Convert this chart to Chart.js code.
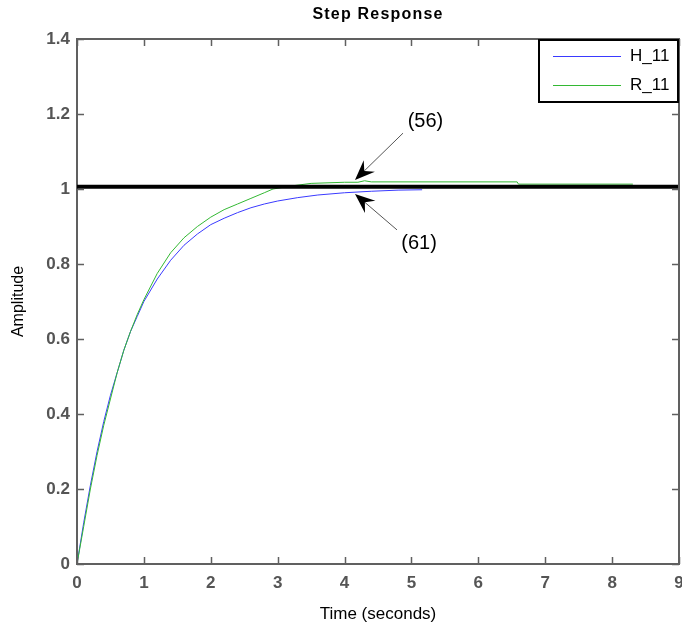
<!DOCTYPE html>
<html>
<head>
<meta charset="utf-8">
<script src="https://cdn.jsdelivr.net/npm/chart.js@4.4.0/dist/chart.umd.min.js"></script>
<style>
  html, body { margin: 0; padding: 0; background: #fff; }
  #wrap { width: 682px; height: 625px; }
</style>
</head>
<body>
<div id="wrap"><canvas id="stepChart" width="682" height="625"></canvas></div>
<script>
// step response samples
const h11Time = [0, 0.1, 0.2, 0.3, 0.4, 0.5, 0.6, 0.7, 0.8, 0.9, 1.0, 1.2, 1.4, 1.6, 1.8, 2.0, 2.2, 2.4, 2.6, 2.8, 3.0, 3.3, 3.6, 4.0, 4.4, 4.8, 5.16];
const h11Amp  = [0, 0.11, 0.21, 0.30, 0.38, 0.45, 0.51, 0.57, 0.62, 0.66, 0.70, 0.76, 0.81, 0.85, 0.88, 0.905, 0.922, 0.937, 0.95, 0.96, 0.968, 0.977, 0.984, 0.99, 0.994, 0.997, 0.998];

const r11Time = [0, 0.1, 0.2, 0.3, 0.4, 0.5, 0.6, 0.7, 0.8, 0.9, 1.0, 1.2, 1.4, 1.6, 1.8, 2.0, 2.2, 2.4, 2.6, 2.8, 2.93, 3.2, 3.5, 4.0, 4.2, 4.3, 4.4, 6.58, 6.6, 8.31];
const r11Amp  = [0, 0.10, 0.20, 0.29, 0.37, 0.44, 0.51, 0.57, 0.62, 0.665, 0.705, 0.775, 0.83, 0.87, 0.90, 0.925, 0.945, 0.96, 0.975, 0.99, 1.0, 1.008, 1.015, 1.018, 1.018, 1.022, 1.019, 1.019, 1.013, 1.013];

const refTime = [0, 9];
const refAmp  = [1.006, 1.006];

const xTicks = [0, 1, 2, 3, 4, 5, 6, 7, 8, 9];
const yTicks = [0, 0.2, 0.4, 0.6, 0.8, 1, 1.2, 1.4];

// annotation arrows (data units): text, text pos, tail, tip
const annLabels = ["(56)", "(61)"];
const annText   = [[5.21, 1.181], [5.113, 0.856]];
const annTail   = [[4.874, 1.149], [4.784, 0.891]];
const annTip    = [[4.156, 1.024], [4.156, 0.987]];

const FONT = '"Liberation Sans", Arial, sans-serif';
const AXIS_GRAY = '#606060';

function pts(xs, ys) {
  return xs.map((x, i) => ({ x: x, y: ys[i] }));
}

const framePlugin = {
  id: 'frame',
  afterDraw(chart) {
    const ctx = chart.ctx;
    const a = chart.chartArea;
    const xs = chart.scales.x, ys = chart.scales.y;
    ctx.save();
    // box top and right
    ctx.strokeStyle = AXIS_GRAY;
    ctx.lineWidth = 2;
    ctx.beginPath();
    ctx.moveTo(a.left, a.top);
    ctx.lineTo(a.right, a.top);
    ctx.lineTo(a.right, a.bottom);
    ctx.stroke();
    // inward ticks
    ctx.lineWidth = 1.5;
    ctx.beginPath();
    xTicks.forEach(v => {
      const px = Math.round(xs.getPixelForValue(v)) + 0.5;
      ctx.moveTo(px, a.bottom); ctx.lineTo(px, a.bottom - 7);
      ctx.moveTo(px, a.top); ctx.lineTo(px, a.top + 7);
    });
    yTicks.forEach(v => {
      const py = Math.round(ys.getPixelForValue(v)) + 0.5;
      ctx.moveTo(a.left, py); ctx.lineTo(a.left + 7, py);
      ctx.moveTo(a.right, py); ctx.lineTo(a.right - 7, py);
    });
    ctx.stroke();

    // arrows
    ctx.strokeStyle = '#555';
    ctx.fillStyle = '#000';
    ctx.lineWidth = 1;
    for (let i = 0; i < annLabels.length; i++) {
      const tx = xs.getPixelForValue(annTail[i][0]), ty = ys.getPixelForValue(annTail[i][1]);
      const hx = xs.getPixelForValue(annTip[i][0]), hy = ys.getPixelForValue(annTip[i][1]);
      const ang = Math.atan2(hy - ty, hx - tx);
      const len = 20, half = 8, notch = 13;
      ctx.beginPath();
      ctx.moveTo(tx, ty);
      ctx.lineTo(hx - Math.cos(ang) * notch, hy - Math.sin(ang) * notch);
      ctx.stroke();
      const bx = hx - Math.cos(ang) * len, by = hy - Math.sin(ang) * len;
      const nx = hx - Math.cos(ang) * notch, ny = hy - Math.sin(ang) * notch;
      ctx.beginPath();
      ctx.moveTo(hx, hy);
      ctx.lineTo(bx + Math.sin(ang) * half, by - Math.cos(ang) * half);
      ctx.lineTo(nx, ny);
      ctx.lineTo(bx - Math.sin(ang) * half, by + Math.cos(ang) * half);
      ctx.closePath();
      ctx.fill();
      ctx.font = '20px ' + FONT;
      ctx.textAlign = 'center';
      ctx.textBaseline = 'middle';
      ctx.fillText(annLabels[i], xs.getPixelForValue(annText[i][0]), ys.getPixelForValue(annText[i][1]));
    }

    // title
    ctx.fillStyle = '#000';
    ctx.font = 'bold 16px ' + FONT;
    ctx.letterSpacing = '1.2px';
    ctx.textAlign = 'center';
    ctx.textBaseline = 'middle';
    ctx.fillText('Step Response', (a.left + a.right) / 2, 15);
    ctx.letterSpacing = '0px';

    // legend box
    const lx = 539, ly = 40, lw = 139, lh = 62;
    ctx.fillStyle = '#fff';
    ctx.fillRect(lx, ly, lw, lh);
    ctx.strokeStyle = '#000';
    ctx.lineWidth = 2;
    ctx.strokeRect(lx, ly, lw, lh);
    const items = chart.data.datasets.filter(d => d.label);
    items.forEach((d, i) => {
      const y = ly + 16 + i * 29;
      ctx.strokeStyle = d.borderColor;
      ctx.lineWidth = 1;
      ctx.beginPath();
      ctx.moveTo(553, y + 0.5); ctx.lineTo(621, y + 0.5);
      ctx.stroke();
      ctx.fillStyle = '#000';
      ctx.font = '17px ' + FONT;
      ctx.textAlign = 'left';
      ctx.textBaseline = 'middle';
      ctx.fillText(d.label, 630, y);
    });
    ctx.restore();
  }
};

new Chart(document.getElementById('stepChart'), {
  type: 'line',
  data: {
    datasets: [
      { label: 'H_11', data: pts(h11Time, h11Amp), borderColor: '#3a3aff', borderWidth: 1, pointRadius: 0, tension: 0, order: 3 },
      { label: 'R_11', data: pts(r11Time, r11Amp), borderColor: '#33b833', borderWidth: 1, pointRadius: 0, tension: 0, order: 2 },
      { label: '', data: pts(refTime, refAmp), borderColor: '#000', borderWidth: 4, pointRadius: 0, tension: 0, order: 1 }
    ]
  },
  options: {
    responsive: false,
    animation: false,
    layout: { padding: { left: 0, right: 3, top: 39, bottom: 0 } },
    plugins: { legend: { display: false }, title: { display: false }, tooltip: { enabled: false } },
    scales: {
      x: {
        type: 'linear', min: 0, max: 9,
        afterFit(s) { s.height = 61; s.paddingLeft = 0; s.paddingRight = 0; },
        afterBuildTicks(s) { s.ticks = xTicks.map(v => ({ value: v })); },
        grid: { display: false, drawTicks: false },
        border: { display: true, color: AXIS_GRAY, width: 2 },
        ticks: { color: '#555', padding: 9, font: { family: FONT, size: 17, weight: 'bold' } },
        title: { display: true, text: 'Time (seconds)', color: '#000', padding: { top: 4, bottom: 0 }, font: { family: FONT, size: 17 } }
      },
      y: {
        type: 'linear', min: 0, max: 1.4,
        afterFit(s) { s.width = 77; s.paddingTop = 0; s.paddingBottom = 0; },
        afterBuildTicks(s) { s.ticks = yTicks.map(v => ({ value: v })); },
        grid: { display: false, drawTicks: false },
        border: { display: true, color: AXIS_GRAY, width: 2 },
        ticks: {
          color: '#555', padding: 7, font: { family: FONT, size: 17, weight: 'bold' },
          callback: v => String(Math.round(v * 10) / 10)
        },
        title: { display: true, text: 'Amplitude', color: '#000', padding: { top: 9, bottom: 0 }, font: { family: FONT, size: 16 } }
      }
    }
  },
  plugins: [framePlugin]
});
</script>
</body>
</html>
